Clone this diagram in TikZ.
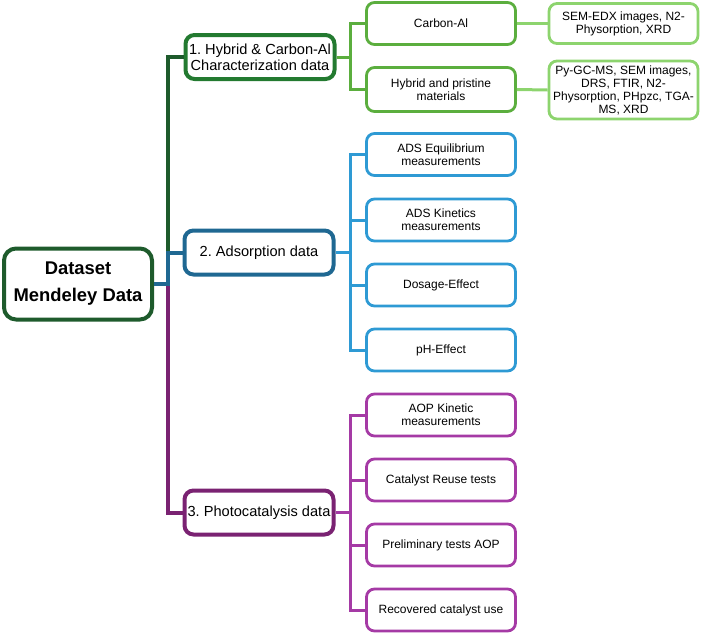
\documentclass[tikz,border=0pt]{standalone}
\usepackage{fontspec}
\setmainfont{Liberation Sans}
\frenchspacing
\definecolor{rootg}{HTML}{1E5B2C}
\definecolor{nonegreen}{HTML}{237A30}
\definecolor{midg}{HTML}{5BAE3E}
\definecolor{lightg}{HTML}{8DD46E}
\definecolor{ntwoblue}{HTML}{1F6892}
\definecolor{leafb}{HTML}{2E9AD4}
\definecolor{nthreep}{HTML}{7A2272}
\definecolor{leafp}{HTML}{A53AA5}
\begin{document}
\begin{tikzpicture}[x=1pt,y=-1pt,
  boxbase/.style={draw, fill=white, align=center, inner sep=0pt, text=black},
  rootbox/.style={boxbase, line width=4pt, draw=rootg, rounded corners=12pt,
    minimum width=148pt, minimum height=71pt,
    font=\fontsize{18.4}{27}\selectfont\bfseries\frenchspacing},
  catbox/.style={boxbase, line width=4pt, rounded corners=9pt,
    minimum width=149pt, minimum height=44pt,
    font=\fontsize{14.6}{16}\selectfont\frenchspacing},
  leafbox/.style={boxbase, line width=2.8pt, rounded corners=8pt,
    minimum width=149pt, minimum height=42pt,
    font=\fontsize{12}{13}\selectfont\frenchspacing},
  trunk/.style={line width=4pt},
  twig/.style={line width=3pt}
]
\useasboundingbox (0,0) rectangle (702,635);

% root
\node[rootbox] (root) at (78,284) {Dataset\\Mendeley Data};

% categories
\node[catbox, draw=nonegreen] (n1) at (260,57) {1. Hybrid \& Carbon-Al\\Characterization data};
\node[catbox, draw=ntwoblue] (n2) at (259,252.5) {2. Adsorption data};
\node[catbox, draw=nthreep] (n3) at (259,512.5) {3. Photocatalysis data};

% group 1
\node[leafbox, draw=midg] (ca) at (441,23.5) {Carbon-Al};
\node[leafbox, draw=midg, minimum height=44pt] (hy) at (441,89.5) {Hybrid and pristine\\materials};
\node[leafbox, draw=lightg, minimum height=40pt] (sem) at (623.5,23.5) {SEM-EDX images, N2-\\Physorption, XRD};
\node[leafbox, draw=lightg, minimum height=58pt] (py) at (623.5,90) {Py-GC-MS, SEM images,\\DRS, FTIR, N2-\\Physorption, PHpzc, TGA-\\MS, XRD};

% group 2
\node[leafbox, draw=leafb] (a1) at (441,154.5) {ADS Equilibrium\\measurements};
\node[leafbox, draw=leafb] (a2) at (441,220) {ADS Kinetics\\measurements};
\node[leafbox, draw=leafb] (a3) at (441,285) {Dosage-Effect};
\node[leafbox, draw=leafb] (a4) at (441,350) {pH-Effect};

% group 3
\node[leafbox, draw=leafp] (p1) at (441,415) {AOP Kinetic\\measurements};
\node[leafbox, draw=leafp] (p2) at (441,480) {Catalyst Reuse tests};
\node[leafbox, draw=leafp] (p3) at (441,545) {Preliminary tests AOP};
\node[leafbox, draw=leafp] (p4) at (441,610) {Recovered catalyst use};

% trunk
\coordinate (tr) at (168,284);
\draw[trunk, rootg] (root.east) -- (tr) |- (n1.west);
\draw[trunk, nthreep] (root.east) -- (tr) |- (n3.west);
\draw[trunk, ntwoblue] (root.east) -- (tr) |- (n2.west);

% branch 1
\coordinate (b1) at (350,57);
\draw[twig, midg] (n1.east) -- (b1) |- (ca.west);
\draw[twig, midg] (b1) |- (hy.west);
\draw[twig, lightg] (ca.east) -- (sem.west);
\draw[twig, lightg] (hy.east) -- (py.west);

% branch 2
\coordinate (b2) at (350,252.5);
\draw[twig, leafb] (n2.east) -- (b2) |- (a1.west);
\draw[twig, leafb] (b2) |- (a2.west);
\draw[twig, leafb] (b2) |- (a3.west);
\draw[twig, leafb] (b2) |- (a4.west);

% branch 3
\coordinate (b3) at (350,512.5);
\draw[twig, leafp] (n3.east) -- (b3) |- (p1.west);
\draw[twig, leafp] (b3) |- (p2.west);
\draw[twig, leafp] (b3) |- (p3.west);
\draw[twig, leafp] (b3) |- (p4.west);
\end{tikzpicture}
\end{document}
